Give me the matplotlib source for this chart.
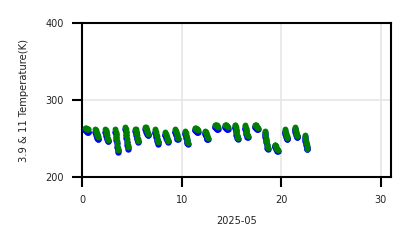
import matplotlib
matplotlib.use("Agg")
import matplotlib.pyplot as plt

days = list(range(23))
obs_hours = [8, 9, 10, 11, 12, 13, 14, 15]

temp_11 = [
    [264, 264, 264, 263, 263, 262, 262, 262],
    [262, 261, 259, 257, 255, 254, 253, 252],
    [262, 261, 260, 257, 254, 251, 249, 248],
    [262, 259, 255, 251, 247, 242, 238, 235],
    [265, 263, 259, 255, 250, 246, 242, 239],
    [263, 262, 260, 257, 254, 251, 249, 247],
    [265, 265, 264, 263, 261, 259, 257, 256],
    [262, 261, 259, 256, 253, 250, 247, 245],
    [258, 257, 256, 254, 252, 250, 248, 247],
    [262, 261, 260, 258, 256, 254, 252, 251],
    [260, 259, 257, 254, 251, 248, 246, 244],
    [264, 264, 264, 263, 263, 262, 262, 261],
    [260, 259, 258, 257, 255, 253, 252, 251],
    [268, 268, 268, 267, 267, 266, 266, 265],
    [268, 268, 268, 267, 267, 266, 266, 265],
    [268, 267, 265, 262, 258, 255, 252, 251],
    [267, 266, 264, 262, 259, 256, 254, 253],
    [268, 268, 268, 267, 266, 265, 265, 264],
    [260, 258, 255, 251, 247, 243, 240, 238],
    [242, 242, 241, 240, 238, 237, 236, 235],
    [262, 261, 259, 257, 255, 253, 252, 251],
    [265, 264, 262, 260, 257, 255, 254, 253],
    [255, 253, 250, 247, 244, 241, 239, 237],
]
temp_39 = [
    [261, 261, 261, 260, 260, 259, 259, 259],
    [259, 257, 255, 254, 252, 251, 250, 250],
    [259, 258, 256, 253, 251, 249, 247, 247],
    [259, 256, 252, 248, 244, 239, 235, 233],
    [262, 259, 255, 251, 246, 242, 239, 237],
    [260, 259, 257, 254, 251, 249, 247, 246],
    [262, 262, 261, 259, 257, 256, 255, 254],
    [259, 257, 255, 252, 249, 247, 245, 243],
    [255, 254, 253, 251, 249, 248, 247, 246],
    [259, 258, 256, 254, 253, 251, 250, 250],
    [257, 256, 253, 251, 248, 246, 244, 243],
    [261, 261, 261, 260, 260, 259, 259, 259],
    [257, 256, 254, 253, 251, 250, 250, 250],
    [265, 265, 265, 264, 264, 263, 263, 263],
    [265, 265, 265, 264, 264, 263, 263, 263],
    [265, 264, 261, 258, 255, 253, 251, 250],
    [264, 263, 261, 258, 256, 254, 252, 252],
    [265, 265, 265, 264, 264, 263, 263, 263],
    [257, 255, 252, 248, 245, 241, 238, 237],
    [240, 240, 239, 238, 236, 235, 234, 234],
    [259, 258, 256, 254, 252, 251, 250, 250],
    [262, 261, 259, 257, 255, 253, 252, 252],
    [252, 250, 247, 244, 241, 239, 237, 236],
]

x_ticks = [0, 10, 20, 30]
y_ticks = [200, 300, 400]

fig = plt.figure(figsize=(4.11, 2.48), dpi=100)
ax = fig.add_axes([0.1995, 0.2863, 0.7515, 0.6207])

for d, b in zip(days, temp_39):
    t = [d + h / 24 for h in obs_hours]
    ax.plot(t, b, 'o', color='blue', markersize=4.6, markeredgewidth=0, zorder=3)
for d, g in zip(days, temp_11):
    t = [d + h / 24 for h in obs_hours]
    ax.plot(t, g, 'o', color='green', markersize=4.2, markeredgewidth=0, zorder=4)

ax.set_xlim(0, 31)
ax.set_ylim(200, 400)
ax.set_xticks(x_ticks)
ax.set_yticks(y_ticks)
ax.grid(True, color='#e6e6e6', linewidth=1.2, zorder=0)
ax.set_axisbelow(True)
for s in ax.spines.values():
    s.set_linewidth(1.5)
ax.tick_params(axis='both', labelsize=7, length=7, width=1.5, pad=6,
               labelcolor='#222222')
ax.set_xlabel('2025-05', fontsize=7, labelpad=8, color='#222222')
ax.set_ylabel('3.9 & 11 Temperature(K)', fontsize=7.2, labelpad=12, color='#222222')

fig.savefig('out.png', dpi=100)
